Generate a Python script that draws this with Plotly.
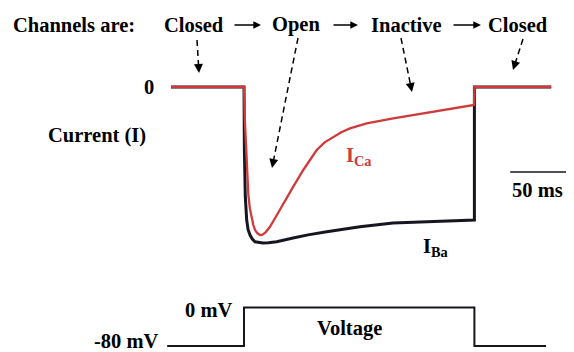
import plotly.graph_objects as go

# page body has an 8px margin, so the figure is drawn 8px smaller and coordinates shifted
OFF = 8
W, H = 574 - OFF, 352 - OFF

# ---------------- data ----------------
# time in ms, 0 = onset of the depolarising step; current normalised to I_Ba peak
t_ca = [-57, 0, 0.6, 1.6, 2.6, 3.4, 4.6, 6.0, 7.3, 8.6, 10.5, 12.5, 14.5, 17.0, 20.3, 25.0,
        30.7, 38.5, 46.3, 56.8, 63.0, 69.8, 76.0, 82.8, 95.9, 116.6, 142.7, 168.8, 179.7, 180, 240]
i_ca = [0, 0, -0.20, -0.42, -0.58, -0.69, -0.78, -0.84, -0.885, -0.917, -0.938, -0.949, -0.946,
        -0.93, -0.896, -0.83, -0.746, -0.639, -0.532, -0.404, -0.355, -0.319, -0.29, -0.265,
        -0.233, -0.201, -0.165, -0.130, -0.115, 0, 0]

t_ba = [-57, 0, 0.3, 1.0, 2.1, 3.2, 4.7, 6.5, 8.6, 11.5, 14.8, 19.0, 25.5, 38.3, 50.0, 64.6,
        90.6, 116.4, 142.7, 180, 180.01, 240]
i_ba = [0, 0, -0.40, -0.70, -0.853, -0.915, -0.949, -0.975, -0.992, -0.998, -1.0, -0.998,
        -0.992, -0.968, -0.948, -0.928, -0.896, -0.872, -0.863, -0.853, 0, 0]

t_v = [-60, 0, 180, 236]
v_mv = [-80, 0, -80, -80]

scale_bar_ms = [208, 260]
scale_bar_label = "50 ms"

current_ticks = [0]
current_tick_text = ["0"]
voltage_ticks = [-80, 0]
voltage_tick_text = ["-80 mV", "0 mV"]

states = ["Closed", "Open", "Inactive", "Closed"]

# ---------------- layout helpers (reference pixel coords -> figure) ----------------
PX_PER_MS = 1.28
T0_PX = 244 - OFF
x_range = [-T0_PX / PX_PER_MS, (W - T0_PX) / PX_PER_MS]

cur_dom = [0.25, 1.0]
cur_top_px = H * (1 - cur_dom[1])
cur_h_px = H * (cur_dom[1] - cur_dom[0])
cur_k = 156.0  # px per unit
cur_r1 = (87 - OFF - cur_top_px) / cur_k
cur_range = [cur_r1 - cur_h_px / cur_k, cur_r1]

v_dom = [0.0, 0.2]
v_top_px = H * (1 - v_dom[1])
v_h_px = H * (v_dom[1] - v_dom[0])
v_k = 38.5 / 80.0
v_r1 = (307.5 - OFF - v_top_px) / v_k
v_range = [v_r1 - v_h_px / v_k, v_r1]


def P(x, y):
    return (x - OFF) / W, 1 - (y - OFF) / H


def XT(x):
    return x_range[0] + (x - OFF) / PX_PER_MS


FONT = "Liberation Serif"
FS = 20.5
BLACK = "#161620"
RED = "#cf3b3b"

fig = go.Figure()
fig.add_trace(go.Scatter(x=t_ba, y=i_ba, mode="lines", line=dict(color=BLACK, width=3),
                         hoverinfo="skip", showlegend=False))
fig.add_trace(go.Scatter(x=t_ca, y=i_ca, mode="lines", line=dict(color=RED, width=2.3),
                         hoverinfo="skip", showlegend=False))
fig.add_trace(go.Scatter(x=t_v, y=v_mv, mode="lines", line=dict(color=BLACK, width=2, shape="hv"),
                         yaxis="y2", hoverinfo="skip", showlegend=False))
fig.add_trace(go.Scatter(x=scale_bar_ms, y=[-0.545, -0.545], mode="lines",
                         line=dict(color=BLACK, width=1.6), hoverinfo="skip", showlegend=False))

ann = []
tf = dict(family=FONT, size=FS, color="black")


def text(s, x, y, xanchor="center", color="black"):
    px, py = P(x, y)
    ann.append(dict(text="<b>" + s + "</b>", x=px, y=py, xref="paper", yref="paper",
                    showarrow=False, xanchor=xanchor, yanchor="middle",
                    font=dict(family=FONT, size=FS, color=color)))


text("Channels are:", 74, 25)
for s, cx in zip(states, [194, 296, 406, 517.5]):
    text(s, cx, 25)
# solid arrows between states
for x0, x1 in [(233, 261), (332, 358), (452, 481)]:
    px1, py1 = P(x1, 25)
    ann.append(dict(x=px1, y=py1, xref="paper", yref="paper", ax=-(x1 - x0), ay=0,
                    text="", showarrow=True, arrowhead=2, arrowsize=1.1, arrowwidth=1.4,
                    arrowcolor="black", standoff=0))

text("Current (I)", 97, 135)
# tick-like labels
ann.append(dict(text="<b>" + current_tick_text[0] + "</b>", x=XT(156),
                y=current_ticks[0], xref="x", yref="y", showarrow=False, xanchor="right",
                font=tf))
ann.append(dict(text="<b>" + voltage_tick_text[0] + "</b>", x=XT(161),
                y=voltage_ticks[0], xref="x", yref="y2", showarrow=False, xanchor="right",
                yanchor="bottom", yshift=-8, font=tf))
ann.append(dict(text="<b>" + voltage_tick_text[1] + "</b>", x=XT(234),
                y=voltage_ticks[1], xref="x", yref="y2", showarrow=False, xanchor="right",
                yanchor="middle", yshift=-2, font=tf))

text("Voltage", 349, 328)
text(scale_bar_label, 537, 190)
text("I<sub>Ca</sub>", 344, 156, xanchor="left", color=RED)
text("I<sub>Ba</sub>", 421, 247, xanchor="left")

# dashed arrows
shapes = []
for (x0, y0), (x1, y1) in [((197, 40), (199, 73)), ((298, 38), (272, 168)),
                           ((401, 38), (412, 92)), ((523, 39), (513, 70))]:
    dx, dy = x1 - x0, y1 - y0
    L = (dx * dx + dy * dy) ** 0.5
    ux, uy = dx / L, dy / L
    bx, by = x1 - ux * 6, y1 - uy * 6
    a0 = P(x0, y0)
    b0 = P(bx, by)
    shapes.append(dict(type="line", xref="paper", yref="paper", x0=a0[0], y0=a0[1],
                       x1=b0[0], y1=b0[1], line=dict(color="black", width=1.5, dash="6px,4px")))
    tip = P(x1, y1)
    ann.append(dict(x=tip[0], y=tip[1], xref="paper", yref="paper", ax=-ux * 9, ay=-uy * 9,
                    text="", showarrow=True, arrowhead=2, arrowsize=1.2, arrowwidth=1.5,
                    arrowcolor="black", standoff=0))

ax_common = dict(visible=False, showgrid=False, zeroline=False, fixedrange=True)
fig.update_layout(
    width=W, height=H, margin=dict(l=0, r=0, t=0, b=0),
    paper_bgcolor="white", plot_bgcolor="white",
    xaxis=dict(range=x_range, **ax_common),
    yaxis=dict(range=cur_range, domain=cur_dom, **ax_common),
    yaxis2=dict(range=v_range, domain=v_dom, anchor="x", **ax_common),
    annotations=ann, shapes=shapes, showlegend=False,
)

fig.write_html("out.html")
